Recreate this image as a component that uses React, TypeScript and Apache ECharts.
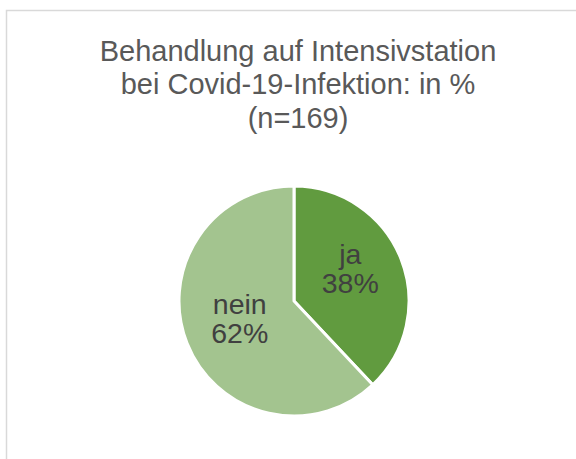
import React, { useEffect, useRef } from "react";
import * as echarts from "echarts";

const categories = ["ja", "nein"];
const values = [38, 62];
const colors = ["#619B3F", "#A3C48F"];
const titleLines = ["Behandlung auf Intensivstation", "bei Covid-19-Infektion: in %", "(n=169)"];

export default function App() {
  const ref = useRef<HTMLDivElement>(null);
  useEffect(() => {
    const chart = echarts.init(ref.current!, null, { renderer: "svg" });
    const labelOffsets = [
      [0, -10],
      [2, -5],
    ];
    chart.setOption({
      animation: false,
      backgroundColor: "#ffffff",
      title: {
        text: titleLines.join("\n"),
        left: 293,
        top: 29,
        textAlign: "center",
        textStyle: {
          fontFamily: "Liberation Sans, Arial, sans-serif",
          fontSize: 29,
          fontWeight: "normal",
          color: "#595959",
          lineHeight: 33.5,
        },
      },
      graphic: [
        {
          type: "rect",
          shape: { x: 6.5, y: 10.5, width: 620, height: 500 },
          style: { fill: "none", stroke: "#d9d9d9", lineWidth: 1.5 },
          silent: true,
        },
      ],
      series: [
        {
          type: "pie",
          center: [294, 301],
          radius: [0, 115],
          startAngle: 90,
          clockwise: true,
          data: categories.map((c, i) => ({
            name: c,
            value: values[i],
            itemStyle: { color: colors[i] },
            label: { offset: labelOffsets[i] },
          })),
          itemStyle: { borderColor: "#ffffff", borderWidth: 3 },
          label: {
            show: true,
            position: "inside",
            formatter: (p: any) => `${p.name}\n${p.value}%`,
            fontFamily: "Liberation Sans, Arial, sans-serif",
            fontSize: 28.5,
            lineHeight: 29,
            color: "#404040",
          },
          labelLine: { show: false },
          emphasis: { disabled: true },
        },
      ],
    });
    return () => chart.dispose();
  }, []);
  return (
    <div
      ref={ref}
      style={{ position: "fixed", left: 0, top: 0, width: 576, height: 459 }}
    />
  );
}
